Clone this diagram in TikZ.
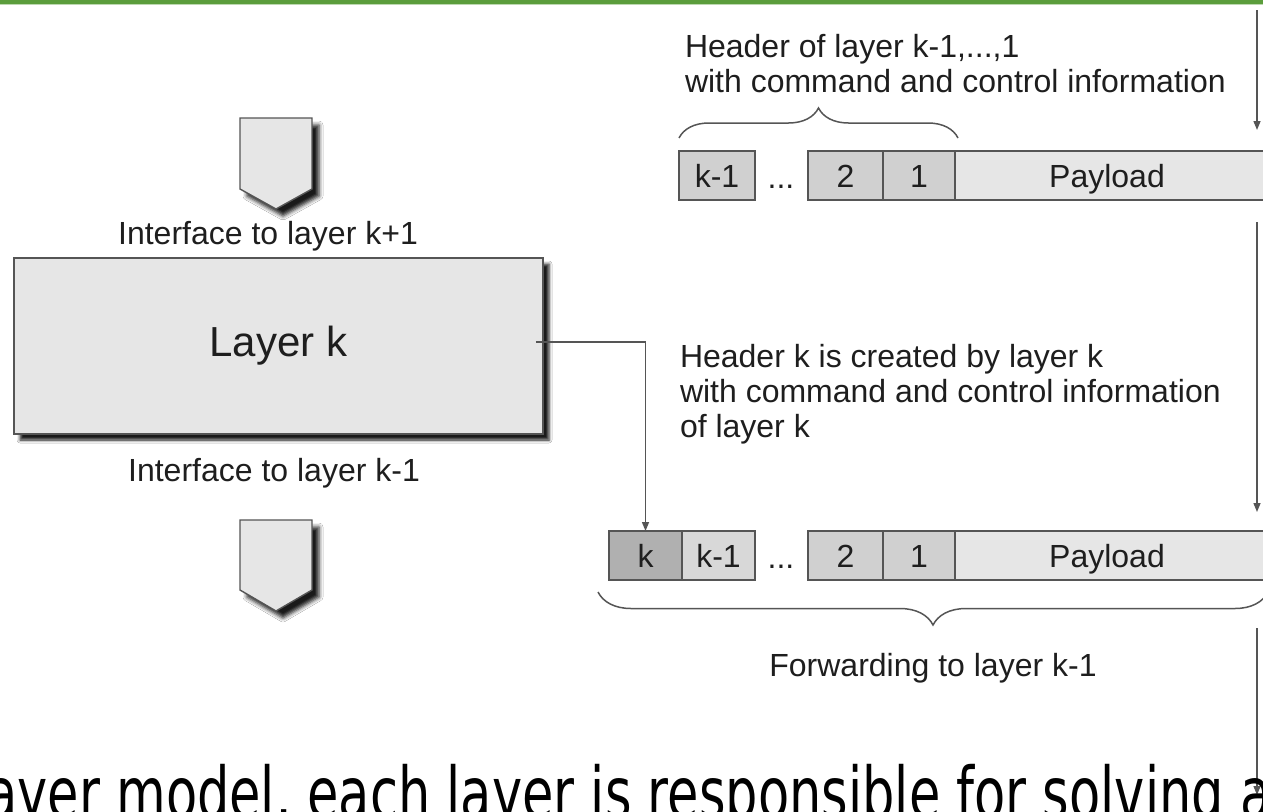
\documentclass[tikz,border=0pt]{standalone}
\usepackage{fontspec}
\setmainfont{Liberation Sans}
\newfontfamily\slidefont{DejaVu Sans}
\usetikzlibrary{arrows.meta,shadows.blur,decorations.pathreplacing,calc}

\definecolor{edge}{HTML}{555555}
\definecolor{ink}{HTML}{1E1E1E}
\definecolor{paleFill}{HTML}{E6E6E6}
\definecolor{hdrFill}{HTML}{D0D0D0}
\definecolor{hdrLight}{HTML}{D8D8D8}
\definecolor{hdrDark}{HTML}{B0B0B0}
\definecolor{barGreen}{HTML}{5B9D3C}

\tikzset{
  x=1pt, y=-1pt,
  txt/.style={font=\fontsize{32}{35}\selectfont, text=ink, inner sep=0pt, outer sep=0pt},
  note/.style={txt, align=left, anchor=north west},
  cell/.style={draw=edge, line width=1.6pt, fill=hdrFill, minimum height=49pt,
    inner sep=0pt, outer sep=0pt, anchor=north west,
    text height=23pt, text depth=0pt,
    font=\fontsize{32}{35}\selectfont, text=ink},
  layerbox/.style={draw=edge, line width=1.6pt, fill=paleFill, inner sep=0pt,
    minimum width=529pt, minimum height=176pt, font=\fontsize{42}{46}\selectfont, text=ink,
    blur shadow={shadow xshift=6pt, shadow yshift=-6pt, shadow blur radius=3pt, shadow opacity=90}},
  pent/.style={draw=edge, line width=1.4pt, fill=paleFill,
    blur shadow={shadow xshift=7pt, shadow yshift=-7pt, shadow blur radius=4pt, shadow opacity=90}},
  conn/.style={draw=edge, line width=1.4pt, -{Triangle[length=9pt,width=7pt]}},
  bracket/.style={draw=edge, line width=1.5pt, decorate},
}

\begin{document}
\begin{tikzpicture}
\useasboundingbox (0,0) rectangle (1263,811);
\fill[white] (0,0) rectangle (1263,811);

% title rule
\fill[barGreen] (0,0) rectangle (1263,3.5);
\fill[barGreen!40] (0,3.5) rectangle (1263,4.5);

% layer k with its two interfaces
\draw[pent] (240,118) -- (312,118) -- (312,189) -- (276,209) -- (240,189) -- cycle;
\node[txt] (ifup) at (268,236) {Interface to layer k+1};
\node[layerbox] (layer) at (278.5,346) {Layer k};
\node[txt] (ifdown) at (274,473) {Interface to layer k-1};
\draw[pent] (240,520) -- (312,520) -- (312,590) -- (276,611) -- (240,590) -- cycle;

% packet arriving from above
\node[note] (hdrtop) at (685,34) {Header of layer k-1,...,1\\with command and control information};
\node[cell, minimum width=76pt] (t1) at (679,151) {k-1};
\node[txt, anchor=base] (tdots) at (781,188) {...};
\node[cell, minimum width=75pt] (t2) at (808,151) {2};
\node[cell, minimum width=72pt] (t3) at (883,151) {1};
\node[cell, minimum width=320pt, fill=paleFill] (tpay) at (955,151) {\hspace*{-16pt}Payload};
\draw[bracket, decoration={brace, amplitude=30pt}] (t1.north west) ++(0,-13) coordinate (bl) -- ($(t3.north east)+(3,-13)$) coordinate (br);

% description of the new header
\node[note] (hdrk) at (680,344) {Header k is created by layer k\\with command and control information\\of layer k};

% packet leaving downwards
\node[cell, minimum width=73pt, fill=hdrDark] (hk) at (609,531) {k};
\node[cell, minimum width=73pt, fill=hdrLight] (b1) at (682,531) {k-1};
\node[txt, anchor=base] (bdots) at (781,568) {...};
\node[cell, minimum width=75pt] (b2) at (808,531) {2};
\node[cell, minimum width=72pt] (b3) at (883,531) {1};
\node[cell, minimum width=320pt, fill=paleFill] (bpay) at (955,531) {\hspace*{-16pt}Payload};
\coordinate (bbl) at (598,592);
\coordinate (bbr) at (1268,592);
\draw[bracket, decoration={brace, amplitude=33pt}] (bbr) -- (bbl);
\node[txt] (fwd) at (933,668) {Forwarding to layer k-1};

% header k is attached by layer k
\coordinate (tap) at ([shift={(-8,-4)}]layer.east);
\draw[conn] (tap) -| (hk.north);

% flow along the right margin
\coordinate (r0) at (1257,10);
\coordinate (r1) at (1257,130);
\coordinate (r2) at (1257,222);
\coordinate (r3) at (1257,512);
\coordinate (r4) at (1257,628);
\coordinate (r5) at (1257,795);
\draw[conn] (r0) -- (r1);
\draw[conn] (r2) -- (r3);
\draw[conn] (r4) -- (r5);

% slide text running below
\node[anchor=base west, inner sep=0pt, font=\slidefont\fontsize{51}{51}\selectfont, text=black] (caption) at (-28,818) {\scalebox{1}[1.4]{layer model, each layer is responsible for solving a}};
\end{tikzpicture}
\end{document}
